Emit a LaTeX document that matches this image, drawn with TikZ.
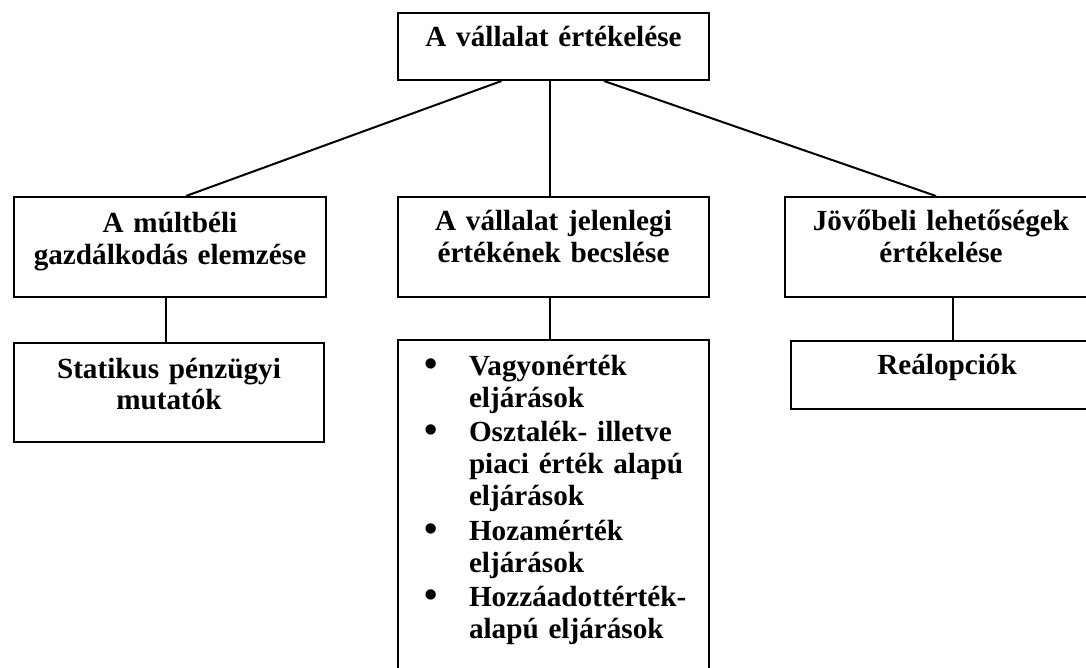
\documentclass[tikz,border=0pt]{standalone}
\usepackage{fontspec}
\setmainfont{Liberation Serif}
\usepackage{tikz}
\tikzstyle{box} = [rectangle, anchor=north west, draw=black, line width=1pt, inner sep=0pt, text width=155.5pt, align=center, text height=17pt, font=\fontsize{14.6}{15.8}\selectfont\bfseries]
\tikzstyle{line} = [line width=1pt]
\newcommand{\listitem}[1]{\noindent\hspace*{13pt}\makebox[22.5pt][l]{\raisebox{-0.5pt}{\fontsize{19}{16}\selectfont\textbullet}}\parbox[t]{118pt}{\raggedright #1}\par\vskip3pt}

\begin{document}
\begin{tikzpicture}
    \useasboundingbox (0,0) rectangle (543pt,-334pt);
    \node (top) [box, text depth=16.5pt] at (198.5pt,-6pt) {A vállalat értékelése};
    \node (past) [box, text width=156pt, text height=18pt, text depth=32pt] at (6.5pt,-98pt) {A múltbéli\\gazdálkodás elemzése};
    \node (present) [box, text height=17pt, text depth=33pt] at (198.5pt,-98pt) {A vállalat jelenlegi\\értékének becslése};
    \node (future) [box, text width=156pt, text height=17pt, text depth=33pt] at (392pt,-98pt) {Jövőbeli lehetőségek\\értékelése};
    \node (static) [box, text width=155pt, text height=17.5pt, text depth=32pt] at (6.5pt,-171pt) {Statikus pénzügyi\\mutatók};
    \node (methods) [box, align=left, font=\fontsize{14.6}{16}\selectfont\bfseries, text height=17.5pt, text depth=172pt] at (198.5pt,-169.5pt) {%
        \listitem{Vagyonérték\\eljárások}
        \listitem{Osztalék- illetve\\piaci érték alapú\\eljárások}
        \listitem{Hozamérték\\eljárások}
        \listitem{Hozzáadottérték-\\alapú eljárások}};
    \node (real) [box, text width=156pt, text height=16.5pt, text depth=17.5pt] at (395pt,-170pt) {Reálopciók};
    \draw [line] ([xshift=-26pt]top.south) -- ([xshift=8pt]past.north);
    \draw [line] ([xshift=-2pt]top.south) -- ([xshift=-2pt]present.north);
    \draw [line] ([xshift=25.25pt]top.south) -- ([xshift=-2.5pt]future.north);
    \draw [line] ([xshift=-2pt]past.south) -- ([xshift=-2pt]past.south |- static.north);
    \draw [line] ([xshift=-2pt]present.south) -- ([xshift=-2pt]present.south |- methods.north);
    \draw [line] ([xshift=6pt]future.south) -- ([xshift=6pt]future.south |- real.north);
\end{tikzpicture}
\end{document}
